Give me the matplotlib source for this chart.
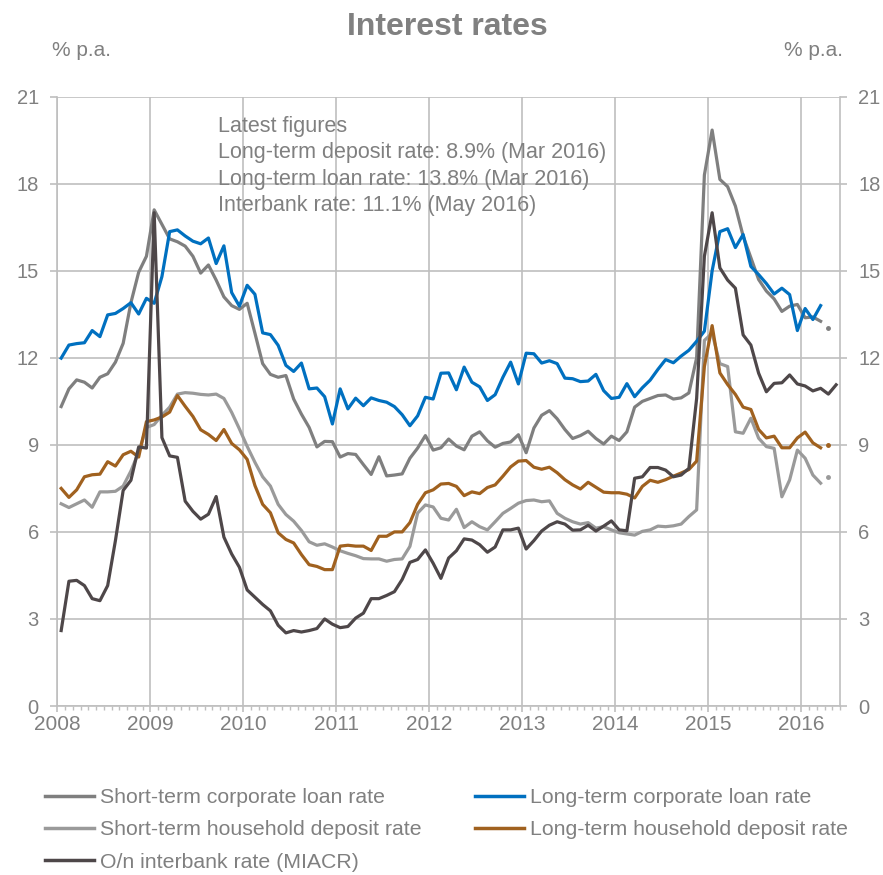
import matplotlib.pyplot as plt
import numpy as np

plt.rcParams['font.family'] = ['Liberation Sans', 'DejaVu Sans']

# monthly data, Jan 2008 onwards (% p.a.)
years = ['2008', '2009', '2010', '2011', '2012', '2013', '2014', '2015', '2016']

st_corp_loan = [
    10.32, 10.93, 11.24, 11.16, 10.96, 11.33, 11.45, 11.85, 12.5, 13.9, 14.95, 15.5,
    17.1, 16.6, 16.1, 16.0, 15.85, 15.5, 14.92, 15.2, 14.68, 14.1, 13.8, 13.67,
    13.88, 12.85, 11.8, 11.43, 11.33, 11.39, 10.58, 10.06, 9.6, 8.93, 9.12, 9.11,
    8.58, 8.7, 8.67, 8.32, 7.98, 8.59, 7.93, 7.96, 8.0, 8.54, 8.89, 9.32,
    8.82, 8.9, 9.2, 8.96, 8.83, 9.3, 9.45, 9.14, 8.92, 9.05, 9.1, 9.35,
    8.73, 9.58, 10.02, 10.18, 9.9, 9.53, 9.22, 9.32, 9.47, 9.22, 9.03, 9.3,
    9.15, 9.45, 10.3, 10.5, 10.6, 10.7, 10.72, 10.58, 10.62, 10.79, 12.0, 18.3,
    19.85, 18.15, 17.9, 17.23, 16.2, 15.45, 14.7, 14.3, 14.03, 13.6, 13.78, 13.84,
    13.38, 13.41, 13.26,
]
lt_corp_loan = [
    11.99, 12.44, 12.49, 12.52, 12.94, 12.73, 13.48, 13.53, 13.7, 13.9, 13.51, 14.05,
    13.88, 14.8, 16.35, 16.41, 16.2, 16.02, 15.93, 16.13, 15.25, 15.86, 14.25, 13.78,
    14.5, 14.19, 12.86, 12.8, 12.43, 11.74, 11.53, 11.82, 10.93, 10.96, 10.66, 9.72,
    10.93, 10.24, 10.61, 10.35, 10.62, 10.53, 10.47, 10.32, 10.04, 9.66, 10.0, 10.64,
    10.58, 11.47, 11.48, 10.9, 11.68, 11.16, 11.0, 10.53, 10.73, 11.33, 11.85, 11.1,
    12.16, 12.14, 11.82, 11.9, 11.8, 11.3, 11.28, 11.18, 11.2, 11.43, 10.87, 10.6,
    10.64, 11.11, 10.66, 10.97, 11.23, 11.6, 11.94, 11.83, 12.06, 12.26, 12.57, 12.92,
    15.0, 16.35, 16.45, 15.8, 16.25, 15.15, 14.87, 14.56, 14.2, 14.4, 14.18, 12.94,
    13.7, 13.32, 13.8,
]
st_hh_deposit = [
    6.97, 6.84, 6.97, 7.1, 6.85, 7.38, 7.38, 7.4, 7.58, 8.1, 8.75, 9.6,
    9.7, 10.02, 10.3, 10.75, 10.8, 10.78, 10.74, 10.72, 10.75, 10.6, 10.12, 9.55,
    8.95, 8.4, 7.9, 7.58, 6.95, 6.6, 6.37, 6.05, 5.66, 5.54, 5.59, 5.48,
    5.35, 5.26, 5.18, 5.08, 5.07, 5.07, 4.99, 5.05, 5.07, 5.5, 6.65, 6.93,
    6.86, 6.47, 6.41, 6.78, 6.15, 6.35, 6.18, 6.07, 6.35, 6.64, 6.81, 6.99,
    7.08, 7.1, 7.04, 7.07, 6.64, 6.47, 6.35, 6.27, 6.32, 6.13, 6.18, 6.07,
    5.97, 5.93, 5.89, 6.02, 6.07, 6.2, 6.18, 6.21, 6.27, 6.53, 6.76, 12.6,
    12.85, 11.8, 11.7, 9.45, 9.4, 9.92, 9.23, 8.94, 8.88, 7.21, 7.79, 8.82,
    8.54, 7.96, 7.68,
]
lt_hh_deposit = [
    7.5, 7.19, 7.45, 7.9, 7.97, 7.99, 8.42, 8.27, 8.66, 8.78, 8.58, 9.8,
    9.86, 9.96, 10.13, 10.7, 10.33, 9.98, 9.52, 9.36, 9.15, 9.53, 9.05, 8.83,
    8.5, 7.6, 6.95, 6.66, 5.97, 5.74, 5.62, 5.22, 4.87, 4.81, 4.7, 4.7,
    5.51, 5.54, 5.51, 5.51, 5.36, 5.85, 5.85, 6.0, 6.0, 6.32, 6.95, 7.35,
    7.45, 7.65, 7.67, 7.57, 7.25, 7.38, 7.32, 7.53, 7.62, 7.92, 8.24, 8.44,
    8.46, 8.23, 8.16, 8.23, 8.04, 7.8, 7.62, 7.48, 7.71, 7.54, 7.37, 7.35,
    7.35, 7.3, 7.17, 7.57, 7.78, 7.71, 7.8, 7.92, 8.03, 8.15, 8.44, 11.7,
    13.11, 11.48, 11.08, 10.74, 10.3, 10.22, 9.53, 9.24, 9.3, 8.9, 8.9, 9.24,
    9.44, 9.07, 8.9,
]
interbank = [
    2.6, 4.3, 4.33, 4.15, 3.7, 3.63, 4.15, 5.7, 7.43, 7.78, 8.93, 8.89,
    17.0, 9.25, 8.62, 8.57, 7.06, 6.71, 6.44, 6.61, 7.22, 5.82, 5.24, 4.78,
    4.0, 3.75, 3.5, 3.28, 2.78, 2.52, 2.6, 2.55, 2.6, 2.67, 3.0, 2.82,
    2.7, 2.74, 3.03, 3.2, 3.7, 3.7, 3.81, 3.94, 4.36, 4.95, 5.05, 5.38,
    4.92, 4.4, 5.1, 5.35, 5.76, 5.72, 5.56, 5.3, 5.48, 6.07, 6.07, 6.13,
    5.41, 5.7, 6.03, 6.23, 6.35, 6.27, 6.06, 6.07, 6.23, 6.03, 6.2, 6.38,
    6.07, 6.04, 7.85, 7.9, 8.22, 8.22, 8.13, 7.9, 7.96, 8.19, 10.6, 15.5,
    17.0, 15.1, 14.68, 14.4, 12.79, 12.44, 11.47, 10.83, 11.12, 11.14, 11.41, 11.1,
    11.03, 10.86, 10.95, 10.75, 11.07,
]
# Apr 2016 preliminary points
apr16_st_corp = 13.03
apr16_st_hh = 7.9
apr16_lt_hh = 9.01

n_months = 101  # Jan 2008 .. May 2016

c_text = '#808080'
c_grid = '#bfbfbf'
series = [
    ('Short-term corporate loan rate', st_corp_loan, '#7f7f7f'),
    ('Long-term corporate loan rate', lt_corp_loan, '#0070c0'),
    ('Short-term household deposit rate', st_hh_deposit, '#9a9a9a'),
    ('Long-term household deposit rate', lt_hh_deposit, '#a0611f'),
    ('O/n interbank rate (MIACR)', interbank, '#4e4749'),
]

fig = plt.figure(figsize=(8.83, 8.75), dpi=100)
ax = fig.add_axes([57.3 / 883, 1 - 706 / 875, (840 - 57.3) / 883, (706 - 96.7) / 875])

lines = {}
for name, vals, col in series:
    x = np.arange(len(vals)) + 0.5
    ln, = ax.plot(x, vals, color=col, lw=2.3, solid_joinstyle='round', label=name)
    lines[name] = ln

ax.plot(99.5, apr16_st_corp, 'o', color='#7f7f7f', ms=2.5)
ax.plot(99.5, apr16_st_hh, 'o', color='#9a9a9a', ms=2.5)
ax.plot(99.5, apr16_lt_hh, 'o', color='#a0611f', ms=2.5)

ax.set_xlim(0, n_months)
ax.set_ylim(0, 21)
ax.set_xticks(np.arange(0, 97, 12))
ax.set_xticklabels(years)
ax.set_xticks(np.arange(0, n_months + 1), minor=True)
ax.set_yticks(np.arange(0, 22, 3))

ax.grid(True, which='major', color=c_grid, lw=1.2)
ax.set_axisbelow(True)
for side in ['left', 'right', 'bottom']:
    ax.spines[side].set_color(c_grid)
    ax.spines[side].set_linewidth(1.2)
ax.spines['top'].set_visible(False)

ax.tick_params(axis='x', which='major', length=4.3, width=1.2, color=c_grid,
               labelcolor=c_text, labelsize=15, pad=2)
ax.tick_params(axis='x', which='minor', length=3, width=1.0, color=c_grid)
ax.tick_params(axis='y', which='major', length=4.8, width=1.2, color=c_grid,
               labelcolor=c_text, labelsize=14.5, pad=8.5, right=True, labelright=True)

ax.text(20.7, 20.33, 'Latest figures\n'
        'Long-term deposit rate: 8.9% (Mar 2016)\n'
        'Long-term loan rate: 13.8% (Mar 2016)\n'
        'Interbank rate: 11.1% (May 2016)',
        color=c_text, fontsize=15.5, va='top', ha='left', linespacing=1.33)

fig.text(447.5 / 883, 0.969, 'Interest rates', color=c_text, fontsize=23,
         fontweight='bold', ha='center', va='center')
fig.text(52 / 883, 1 - 50 / 875, '% p.a.', color=c_text, fontsize=15, ha='left', va='center')
fig.text(843 / 883, 1 - 50 / 875, '% p.a.', color=c_text, fontsize=15, ha='right', va='center')

order = ['Short-term corporate loan rate', 'Short-term household deposit rate',
         'O/n interbank rate (MIACR)', 'Long-term corporate loan rate',
         'Long-term household deposit rate']
leg = fig.legend([lines[k] for k in order], order, ncol=2, frameon=False,
                 loc='upper left', bbox_to_anchor=(45 / 883, 1 - 788 / 875),
                 fontsize=15.3, handlelength=2.3, handletextpad=0.3,
                 columnspacing=2.5, labelspacing=0.63, borderpad=0, borderaxespad=0)
for t in leg.get_texts():
    t.set_color(c_text)
for h in leg.legend_handles:
    h.set_linewidth(2.5)

fig.savefig('out.png', dpi=100)
